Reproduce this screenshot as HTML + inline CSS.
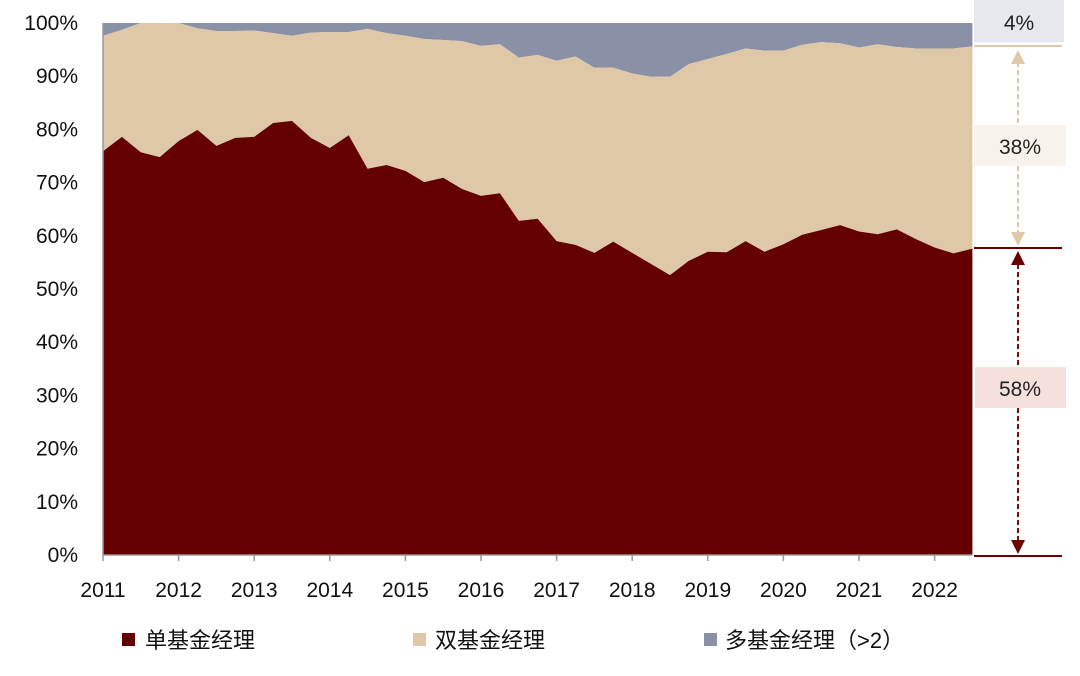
<!DOCTYPE html>
<html><head><meta charset="utf-8"><style>
body{margin:0;background:#fff;}
svg text{font-family:"Liberation Sans","Noto Sans CJK SC",sans-serif;}
</style></head><body>
<svg id="chart" width="1080" height="671" xmlns="http://www.w3.org/2000/svg">
<g id="areas"></g>
<g id="axes"></g>
<g>
<rect x="974" y="0" width="90" height="42" fill="#e6e8ee"/>
<text x="1019" y="30" font-size="21" text-anchor="middle" fill="#222">4%</text>
<line x1="974" y1="46" x2="1062" y2="46" stroke="#dec8a8" stroke-width="2"/>
<line x1="1018" y1="62" x2="1018" y2="234" stroke="#dec8a8" stroke-width="2" stroke-dasharray="5,3"/>
<polygon points="1018,50 1011,64 1025,64" fill="#dec8a8"/>
<polygon points="1018,246 1011,232 1025,232" fill="#dec8a8"/>
<rect x="974" y="125" width="92" height="41" fill="#f7f3ec"/>
<text x="1020" y="154" font-size="21" text-anchor="middle" fill="#222">38%</text>
<line x1="974" y1="248" x2="1062" y2="248" stroke="#6b0000" stroke-width="2"/>
<line x1="1018" y1="264" x2="1018" y2="541" stroke="#7a1010" stroke-width="2" stroke-dasharray="5,3"/>
<polygon points="1018,251 1011,265 1025,265" fill="#6b0000"/>
<polygon points="1018,554 1011,540 1025,540" fill="#6b0000"/>
<rect x="975" y="367" width="91" height="41" fill="#f6e0dc"/>
<text x="1020" y="396" font-size="21" text-anchor="middle" fill="#222">58%</text>
<line x1="974" y1="556" x2="1062" y2="556" stroke="#6b0000" stroke-width="2"/>
</g>
<g>
<rect x="122" y="633" width="13" height="13" fill="#640000"/>
<text x="145" y="648" font-size="22" fill="#111">单基金经理</text>
<rect x="413" y="633" width="13" height="13" fill="#dec8a8"/>
<text x="435" y="648" font-size="22" fill="#111">双基金经理</text>
<rect x="704" y="633" width="13" height="13" fill="#8a90a6"/>
<text x="725" y="648" font-size="22" fill="#111">多基金经理（&gt;2）</text>
</g>
</svg>
<script>
const years = ["2011","2012","2013","2014","2015","2016","2017","2018","2019","2020","2021","2022"];
const yTicks = [0,10,20,30,40,50,60,70,80,90,100];
const single = [75.9,78.6,75.7,74.8,77.8,79.9,76.9,78.4,78.6,81.2,81.6,78.4,76.5,78.9,72.6,73.3,72.2,70.1,70.9,68.8,67.5,68.0,62.8,63.2,59.0,58.3,56.8,58.9,56.8,54.7,52.6,55.3,57.0,56.9,59.0,57.0,58.4,60.2,61.1,62.0,60.8,60.3,61.2,59.4,57.8,56.7,57.6];
const double = [21.7,20.1,24.3,25.2,22.2,19.1,21.6,20.1,20.0,16.9,16.0,19.8,21.8,19.4,26.3,24.8,25.4,26.9,25.9,27.8,28.2,28.0,30.7,30.8,33.9,35.4,34.8,32.7,33.7,35.2,37.3,37.0,36.2,37.3,36.2,37.8,36.4,35.7,35.3,34.2,34.6,35.7,34.3,35.8,37.4,38.5,38.0];
const multi = [2.4,1.3,0,0,0,1.0,1.5,1.5,1.4,1.9,2.4,1.8,1.7,1.7,1.1,1.9,2.4,3.0,3.2,3.4,4.3,4.0,6.5,6.0,7.1,6.3,8.4,8.4,9.5,10.1,10.1,7.7,6.8,5.8,4.8,5.2,5.2,4.1,3.6,3.8,4.6,4.0,4.5,4.8,4.8,4.8,4.4];
const NS="http://www.w3.org/2000/svg";
const X0=103, YEARW=75.6, Y0=555, Y1=23;
function xq(i){return X0+i*YEARW/4;}
function yv(v){return Y0-(v/100)*(Y0-Y1);}
function mk(tag,attrs,parent){const e=document.createElementNS(NS,tag);for(const k in attrs)e.setAttribute(k,attrs[k]);parent.appendChild(e);return e;}
const areas=document.getElementById('areas'), axes=document.getElementById('axes');
const n=single.length;
const c1=single.map(v=>v), c2=single.map((v,i)=>v+double[i]), c3=single.map((v,i)=>v+double[i]+multi[i]);
function band(lo,hi,fill,name){
  let d='M'+xq(0)+','+yv(hi[0]);
  for(let i=1;i<n;i++)d+=' L'+xq(i)+','+yv(hi[i]);
  for(let i=n-1;i>=0;i--)d+=' L'+xq(i)+','+yv(lo?lo[i]:0);
  d+='Z';
  const p=mk('path',{d:d,fill:fill},areas);
  
  
}
band(c2,c3,'#8a90a6','area-multi-manager');
band(c1,c2,'#dec8a8','area-double-manager');
band(null,c1,'#640000','area-single-manager');
const ax=mk('line',{x1:X0,y1:Y1,x2:X0,y2:Y0,stroke:'#999','stroke-width':1.5},axes);


const bx=mk('line',{x1:X0,y1:Y0,x2:xq(n-1),y2:Y0,stroke:'#999','stroke-width':1.5},axes);


yTicks.forEach(t=>{
  const tx=mk('text',{x:78,y:yv(t)+7,'font-size':21,'text-anchor':'end',fill:'#111'},axes);
  tx.textContent=t+'%';
  
  
});
years.forEach((y,i)=>{
  const x=X0+i*YEARW;
  const tk=mk('line',{x1:x,y1:Y0,x2:x,y2:Y0+6,stroke:'#999','stroke-width':1.5},axes);
  
  
  const tx=mk('text',{x:x,y:597,'font-size':21,'text-anchor':'middle',fill:'#111'},axes);
  tx.textContent=y;
  
  
});
</script>
</body></html>
